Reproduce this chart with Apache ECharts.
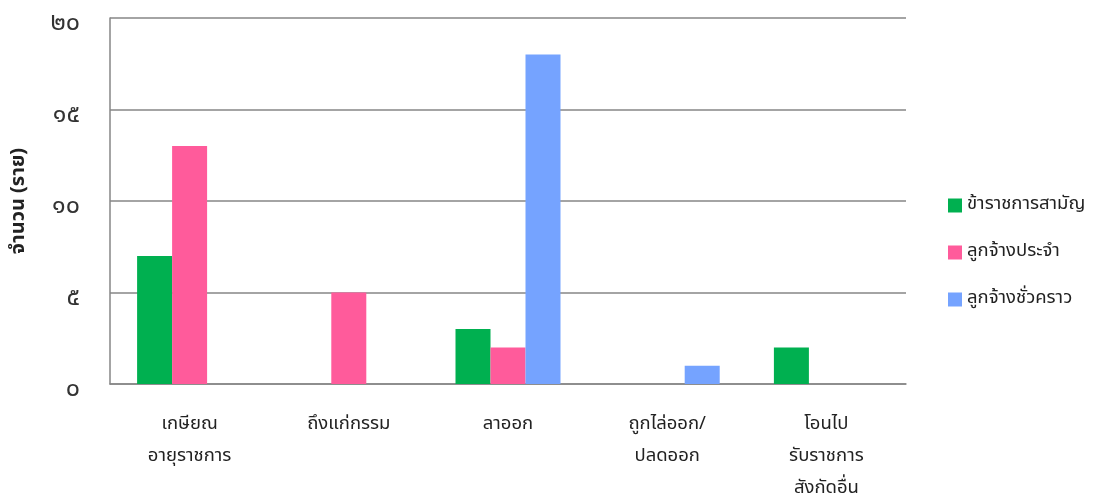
<!DOCTYPE html>
<html>
<head>
<meta charset="utf-8">
<script src="https://cdn.jsdelivr.net/npm/echarts@6/dist/echarts.min.js"></script>
<style>
  html, body { margin: 0; padding: 0; background: #fff; }
  #chart { width: 1097px; height: 497px; }
</style>
</head>
<body>
<div id="chart"></div>
<script>
const categories = [
  'เกษียณ\nอายุราชการ',
  'ถึงแก่กรรม',
  'ลาออก',
  'ถูกไล่ออก/\nปลดออก',
  'โอนไป\nรับราชการ\nสังกัดอื่น'
]
const seriesNames = ['ข้าราชการสามัญ', 'ลูกจ้างประจำ', 'ลูกจ้างชั่วคราว']
const civilServants = [7, 0, 3, 0, 2]
const permanentStaff = [13, 5, 2, 0, 0]
const temporaryStaff = [0, 0, 18, 1, 0]
const yTickLabels = ['๐', '๕', '๑๐', '๑๕', '๒๐']

const colors = ['#00b050', '#ff5b9b', '#75a3ff']
const font = '"Noto Sans Thai", "Tahoma", "Noto Sans", sans-serif'

const chart = echarts.init(document.getElementById('chart'))

const option = {
  animation: false,
  textStyle: { fontFamily: font },
  grid: { left: 110, right: 191, top: 18, bottom: 113, outerBoundsMode: 'none' },
  legend: {
    orient: 'vertical',
    left: 943,
    top: 191,
    itemWidth: 14,
    itemHeight: 14,
    itemGap: 28,
    icon: 'rect',
    textStyle: { fontSize: 18.5, color: '#222', fontFamily: font },
    data: seriesNames
  },
  xAxis: {
    type: 'category',
    data: categories,
    axisLine: { lineStyle: { color: '#868686', width: 1.5 } },
    axisTick: { show: false },
    axisLabel: {
      fontSize: 18.5,
      color: '#222',
      lineHeight: 32,
      margin: 25,
      interval: 0
    }
  },
  yAxis: {
    type: 'value',
    min: 0,
    max: 20,
    interval: 5,
    name: 'จำนวน (ราย)',
    nameLocation: 'middle',
    nameGap: 80,
    nameRotate: 90,
    nameTextStyle: { fontSize: 20, fontWeight: 'bold', color: '#222', fontFamily: font },
    axisLine: { show: true, lineStyle: { color: '#868686', width: 1.5 } },
    axisTick: { show: false },
    splitLine: { lineStyle: { color: '#868686', width: 1.5 } },
    axisLabel: {
      fontSize: 25,
      color: '#333',
      margin: 30,
      verticalAlign: 'top',
      lineHeight: 14,
      formatter: v => yTickLabels[v / 5]
    }
  },
  series: [
    { name: seriesNames[0], type: 'bar', data: civilServants, barWidth: 35, barGap: '0%', itemStyle: { color: colors[0] } },
    { name: seriesNames[1], type: 'bar', data: permanentStaff, barWidth: 35, barGap: '0%', itemStyle: { color: colors[1] } },
    { name: seriesNames[2], type: 'bar', data: temporaryStaff, barWidth: 35, barGap: '0%', itemStyle: { color: colors[2] } }
  ]
}

chart.setOption(option)
</script>
</body>
</html>
